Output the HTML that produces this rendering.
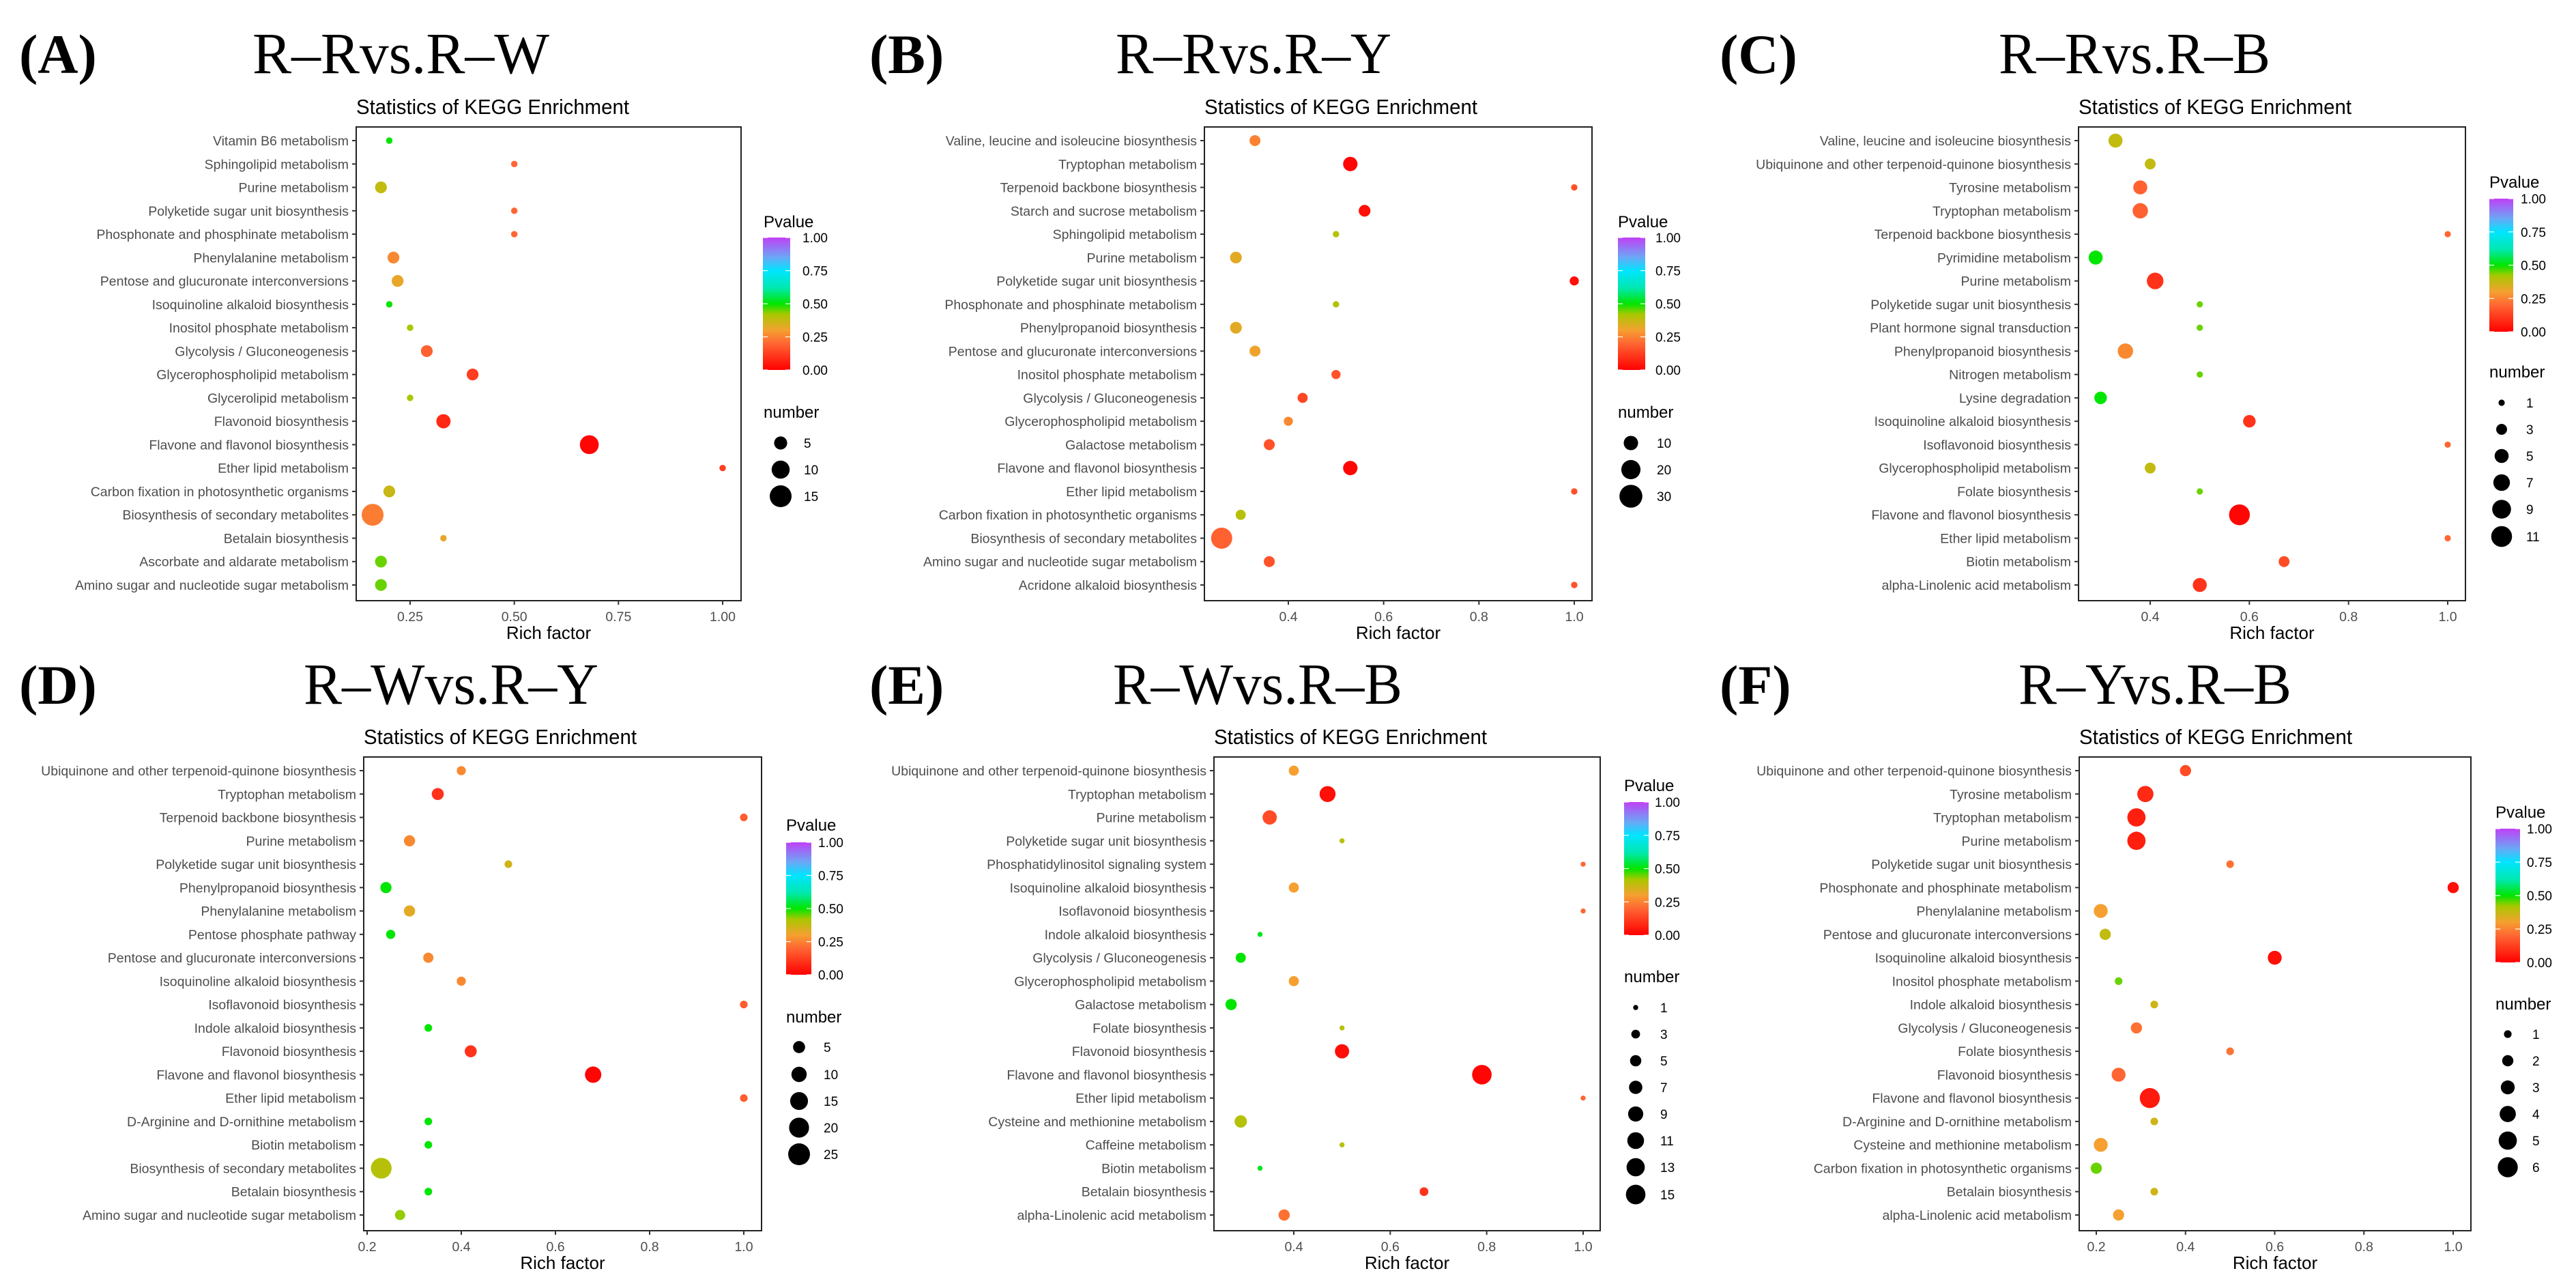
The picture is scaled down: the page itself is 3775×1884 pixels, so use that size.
<!DOCTYPE html>
<html><head><meta charset="utf-8"><style>
html,body{margin:0;padding:0;background:#fff;}
svg{display:block;}
</style></head><body>
<svg id="fig" xmlns="http://www.w3.org/2000/svg" width="3775" height="1884" viewBox="0 0 3775 1884">
<defs>
<linearGradient id="pgrad" x1="0" y1="1" x2="0" y2="0">
<stop offset="0" stop-color="#ff0000"/><stop offset="0.2" stop-color="#ff6633"/><stop offset="0.3" stop-color="#f5a030"/>
<stop offset="0.42" stop-color="#a8c800"/><stop offset="0.5" stop-color="#00e600"/><stop offset="0.62" stop-color="#00e8b0"/>
<stop offset="0.75" stop-color="#00e5ff"/><stop offset="0.85" stop-color="#6aa8f5"/><stop offset="1" stop-color="#c040f5"/>
</linearGradient>
</defs>
</svg>
<script>
// ---- Panel A data ----
const catsA=["Vitamin B6 metabolism","Sphingolipid metabolism","Purine metabolism","Polyketide sugar unit biosynthesis","Phosphonate and phosphinate metabolism","Phenylalanine metabolism","Pentose and glucuronate interconversions","Isoquinoline alkaloid biosynthesis","Inositol phosphate metabolism","Glycolysis / Gluconeogenesis","Glycerophospholipid metabolism","Glycerolipid metabolism","Flavonoid biosynthesis","Flavone and flavonol biosynthesis","Ether lipid metabolism","Carbon fixation in photosynthetic organisms","Biosynthesis of secondary metabolites","Betalain biosynthesis","Ascorbate and aldarate metabolism","Amino sugar and nucleotide sugar metabolism"];
const richA=[0.2,0.5,0.18,0.5,0.5,0.21,0.22,0.2,0.25,0.29,0.4,0.25,0.33,0.68,1.0,0.2,0.16,0.33,0.18,0.18];
const pA=[0.5,0.2,0.38,0.2,0.2,0.26,0.32,0.5,0.42,0.19,0.12,0.42,0.08,0.01,0.12,0.37,0.24,0.32,0.45,0.45];
const nA=[1,1,4,1,1,4,4,1,1,4,4,1,6,11,1,4,15,1,4,4];
const ticksA=[0.25,0.5,0.75,1.0];const tickLabA=["0.25","0.50","0.75","1.00"];const legNA=[5,10,15];
// ---- Panel B data ----
const catsB=["Valine, leucine and isoleucine biosynthesis","Tryptophan metabolism","Terpenoid backbone biosynthesis","Starch and sucrose metabolism","Sphingolipid metabolism","Purine metabolism","Polyketide sugar unit biosynthesis","Phosphonate and phosphinate metabolism","Phenylpropanoid biosynthesis","Pentose and glucuronate interconversions","Inositol phosphate metabolism","Glycolysis / Gluconeogenesis","Glycerophospholipid metabolism","Galactose metabolism","Flavone and flavonol biosynthesis","Ether lipid metabolism","Carbon fixation in photosynthetic organisms","Biosynthesis of secondary metabolites","Amino sugar and nucleotide sugar metabolism","Acridone alkaloid biosynthesis"];
const richB=[0.33,0.53,1.0,0.56,0.5,0.29,1.0,0.5,0.29,0.33,0.5,0.43,0.4,0.36,0.53,1.0,0.3,0.26,0.36,1.0];
const pB=[0.25,0.01,0.16,0.03,0.4,0.33,0.03,0.4,0.33,0.31,0.16,0.14,0.26,0.16,0.01,0.16,0.4,0.19,0.16,0.16];
const nB=[5,10,1,6,1,6,3,1,6,5,3,4,3,5,10,1,4,25,5,1];
const ticksB=[0.4,0.6,0.8,1.0];const tickLabB=["0.4","0.6","0.8","1.0"];const legNB=[10,20,30];
// ---- Panel C data ----
const catsC=["Valine, leucine and isoleucine biosynthesis","Ubiquinone and other terpenoid-quinone biosynthesis","Tyrosine metabolism","Tryptophan metabolism","Terpenoid backbone biosynthesis","Pyrimidine metabolism","Purine metabolism","Polyketide sugar unit biosynthesis","Plant hormone signal transduction","Phenylpropanoid biosynthesis","Nitrogen metabolism","Lysine degradation","Isoquinoline alkaloid biosynthesis","Isoflavonoid biosynthesis","Glycerophospholipid metabolism","Folate biosynthesis","Flavone and flavonol biosynthesis","Ether lipid metabolism","Biotin metabolism","alpha-Linolenic acid metabolism"];
const richC=[0.33,0.4,0.38,0.38,1.0,0.29,0.41,0.5,0.5,0.35,0.5,0.3,0.6,1.0,0.4,0.5,0.58,1.0,0.67,0.5];
const pC=[0.38,0.38,0.19,0.19,0.2,0.5,0.1,0.45,0.45,0.26,0.45,0.5,0.1,0.2,0.38,0.45,0.01,0.2,0.15,0.1];
const nC=[5,3,5,6,1,5,7,1,1,6,1,4,4,1,3,1,11,1,3,5];
const ticksC=[0.4,0.6,0.8,1.0];const tickLabC=["0.4","0.6","0.8","1.0"];const legNC=[1,3,5,7,9,11];
// ---- Panel D data ----
const catsD=["Ubiquinone and other terpenoid-quinone biosynthesis","Tryptophan metabolism","Terpenoid backbone biosynthesis","Purine metabolism","Polyketide sugar unit biosynthesis","Phenylpropanoid biosynthesis","Phenylalanine metabolism","Pentose phosphate pathway","Pentose and glucuronate interconversions","Isoquinoline alkaloid biosynthesis","Isoflavonoid biosynthesis","Indole alkaloid biosynthesis","Flavonoid biosynthesis","Flavone and flavonol biosynthesis","Ether lipid metabolism","D-Arginine and D-ornithine metabolism","Biotin metabolism","Biosynthesis of secondary metabolites","Betalain biosynthesis","Amino sugar and nucleotide sugar metabolism"];
const richD=[0.4,0.35,1.0,0.29,0.5,0.24,0.29,0.25,0.33,0.4,1.0,0.33,0.42,0.68,1.0,0.33,0.33,0.23,0.33,0.27];
const pD=[0.26,0.1,0.18,0.26,0.36,0.5,0.33,0.5,0.26,0.26,0.18,0.5,0.1,0.01,0.18,0.5,0.5,0.4,0.5,0.43];
const nD=[2,5,1,4,1,4,4,2,3,2,1,1,5,12,1,1,1,22,1,3];
const ticksD=[0.2,0.4,0.6,0.8,1.0];const tickLabD=["0.2","0.4","0.6","0.8","1.0"];const legND=[5,10,15,20,25];
// ---- Panel E data ----
const catsE=["Ubiquinone and other terpenoid-quinone biosynthesis","Tryptophan metabolism","Purine metabolism","Polyketide sugar unit biosynthesis","Phosphatidylinositol signaling system","Isoquinoline alkaloid biosynthesis","Isoflavonoid biosynthesis","Indole alkaloid biosynthesis","Glycolysis / Gluconeogenesis","Glycerophospholipid metabolism","Galactose metabolism","Folate biosynthesis","Flavonoid biosynthesis","Flavone and flavonol biosynthesis","Ether lipid metabolism","Cysteine and methionine metabolism","Caffeine metabolism","Biotin metabolism","Betalain biosynthesis","alpha-Linolenic acid metabolism"];
const richE=[0.4,0.47,0.35,0.5,1.0,0.4,1.0,0.33,0.29,0.4,0.27,0.5,0.5,0.79,1.0,0.29,0.5,0.33,0.67,0.38];
const pE=[0.3,0.03,0.15,0.4,0.2,0.3,0.2,0.52,0.5,0.3,0.5,0.4,0.03,0.01,0.2,0.4,0.4,0.52,0.1,0.22];
const nE=[4,10,8,1,1,4,1,1,4,4,5,1,8,15,1,6,1,1,3,5];
const ticksE=[0.4,0.6,0.8,1.0];const tickLabE=["0.4","0.6","0.8","1.0"];const legNE=[1,3,5,7,9,11,13,15];
// ---- Panel F data ----
const catsF=["Ubiquinone and other terpenoid-quinone biosynthesis","Tyrosine metabolism","Tryptophan metabolism","Purine metabolism","Polyketide sugar unit biosynthesis","Phosphonate and phosphinate metabolism","Phenylalanine metabolism","Pentose and glucuronate interconversions","Isoquinoline alkaloid biosynthesis","Inositol phosphate metabolism","Indole alkaloid biosynthesis","Glycolysis / Gluconeogenesis","Folate biosynthesis","Flavonoid biosynthesis","Flavone and flavonol biosynthesis","D-Arginine and D-ornithine metabolism","Cysteine and methionine metabolism","Carbon fixation in photosynthetic organisms","Betalain biosynthesis","alpha-Linolenic acid metabolism"];
const richF=[0.4,0.31,0.29,0.29,0.5,1.0,0.21,0.22,0.6,0.25,0.33,0.29,0.5,0.25,0.32,0.33,0.21,0.2,0.33,0.25];
const pF=[0.15,0.08,0.06,0.06,0.22,0.03,0.3,0.38,0.03,0.45,0.36,0.22,0.22,0.2,0.05,0.36,0.3,0.45,0.36,0.3];
const nF=[2,4,5,5,1,2,3,2,3,1,1,2,1,3,6,1,3,2,1,2];
const ticksF=[0.2,0.4,0.6,0.8,1.0];const tickLabF=["0.2","0.4","0.6","0.8","1.0"];const legNF=[1,2,3,4,5,6];

const NS="http://www.w3.org/2000/svg";
const svg=document.getElementById('fig');
function el(tag,attrs,parent,txt){const e=document.createElementNS(NS,tag);for(const k in attrs)e.setAttribute(k,attrs[k]);if(txt!==undefined)e.textContent=txt;(parent||svg).appendChild(e);return e;}
const stops=[[0,[255,0,0]],[0.2,[255,102,51]],[0.3,[245,160,48]],[0.42,[168,200,0]],[0.5,[0,230,0]],[0.62,[0,232,176]],[0.75,[0,229,255]],[0.85,[106,168,245]],[1,[192,64,245]]];
function pcol(p){for(let i=1;i<stops.length;i++){if(p<=stops[i][0]){const a=stops[i-1],b=stops[i];const t=(p-a[0])/(b[0]-a[0]);const c=a[1].map((v,j)=>Math.round(v+(b[1][j]-v)*t));return `rgb(${c[0]},${c[1]},${c[2]})`;}}return 'rgb(192,64,245)';}

const panels=[
 {id:'a',lab:'(A)',title:'R–Rvs.R–W',cats:catsA,rich:richA,p:pA,n:nA,ticks:ticksA,tl:tickLabA,leg:legNA,
  ox:0,oy:0,labX:28,titleX:370,titleW:435,box:[522,186,1086,880],row0:206,row1:857,x0v:0.25,x0:601,x1v:1.0,x1:1059,
  rA:0.8,rB:3.93,lg:{x:1119,pv:333,cb:[1118,348,1158,542],nt:612,ey:[649,688,727],cx:1144,lx:1170}},
 {id:'b',lab:'(B)',title:'R–Rvs.R–Y',cats:catsB,rich:richB,p:pB,n:nB,ticks:ticksB,tl:tickLabB,leg:legNB,
  ox:1250,oy:0,labX:24,titleX:385,titleW:404,box:[515,186,1083,880],row0:206,row1:857,x0v:0.4,x0:638,x1v:1.0,x1:1057,
  rA:2,rB:2.7,lg:{x:1121,pv:333,cb:[1121,348,1161,542],nt:612,ey:[649,688,727],cx:1140,lx:1170}},
 {id:'c',lab:'(C)',title:'R–Rvs.R–B',cats:catsC,rich:richC,p:pC,n:nC,ticks:ticksC,tl:tickLabC,leg:legNC,
  ox:2500,oy:0,labX:20,titleX:429,titleW:398,box:[546,186,1113,880],row0:206,row1:857,x0v:0.4,x0:651,x1v:1.0,x1:1087,
  rA:0,rB:4.6,lg:{x:1148,pv:275,cb:[1148,291,1183,486],nt:553,ey:[590,629,668,707,746,786],cx:1166,lx:1194}},
 {id:'d',lab:'(D)',title:'R–Wvs.R–Y',cats:catsD,rich:richD,p:pD,n:nD,ticks:ticksD,tl:tickLabD,leg:legND,
  ox:0,oy:930,labX:28,titleX:445,titleW:432,box:[533,179,1116,873],row0:199,row1:850,x0v:0.2,x0:538,x1v:1.0,x1:1090,
  rA:3,rB:2.6,lg:{x:1152,pv:287,cb:[1152,304,1189,498],nt:568,ey:[604,644,683,722,761],cx:1171,lx:1199}},
 {id:'e',lab:'(E)',title:'R–Wvs.R–B',cats:catsE,rich:richE,p:pE,n:nE,ticks:ticksE,tl:tickLabE,leg:legNE,
  ox:1250,oy:930,labX:24,titleX:381,titleW:424,box:[529,179,1095,873],row0:199,row1:850,x0v:0.4,x0:646,x1v:1.0,x1:1070,
  rA:0,rB:3.7,lg:{x:1130,pv:229,cb:[1130,245,1166,440],nt:509,ey:[546,585,624,663,702,741,780,820],cx:1147,lx:1175}},
 {id:'f',lab:'(F)',title:'R–Yvs.R–B',cats:catsF,rich:richF,p:pF,n:nF,ticks:ticksF,tl:tickLabF,leg:legNF,
  ox:2500,oy:930,labX:20,titleX:458,titleW:400,box:[547,179,1121,873],row0:199,row1:850,x0v:0.2,x0:572,x1v:1.0,x1:1095,
  rA:-0.68,rB:6.28,lg:{x:1157,pv:268,cb:[1157,284,1193,480],nt:549,ey:[585,624,663,702,741,780],cx:1175,lx:1203}}
];
const F='Liberation Sans, Arial, sans-serif';
panels.forEach(P=>{
 const g=el('g',{transform:`translate(${P.ox},${P.oy})`});
 
 
 const xs=v=>P.x0+(v-P.x0v)*(P.x1-P.x0)/(P.x1v-P.x0v);
 const ys=i=>P.row0+i*(P.row1-P.row0)/(P.cats.length-1);
 const rs=n=>Math.max(3.5,P.rA+P.rB*Math.sqrt(n));
 const base=P.oy?101:107;
 let t=el('text',{x:P.labX,y:base,'font-family':'Liberation Serif, serif','font-size':82,'font-weight':'bold'},g,P.lab);
 
 t=el('text',{x:P.titleX,y:base,'font-family':'Liberation Serif, serif','font-size':86,textLength:P.titleW,lengthAdjust:'spacingAndGlyphs'},g,P.title);
 
 const [bx0,by0,bx1,by1]=P.box;
 t=el('text',{x:bx0,y:by0-19,'font-family':F,'font-size':31,textLength:400,lengthAdjust:'spacingAndGlyphs'},g,'Statistics of KEGG Enrichment');
 
 const box=el('rect',{x:bx0,y:by0,width:bx1-bx0,height:by1-by0,fill:'none',stroke:'#222','stroke-width':2},g);
 
 P.cats.forEach((c,i)=>{
  const y=ys(i);
  el('line',{x1:bx0-6,x2:bx0,y1:y,y2:y,stroke:'#333','stroke-width':2},g);
  const lt=el('text',{x:bx0-11,y:y+7,'text-anchor':'end','font-family':F,'font-size':19.5,fill:'#4d4d4d'},g,c);
  
 });
 P.ticks.forEach((v,i)=>{
  const x=xs(v);
  el('line',{x1:x,x2:x,y1:by1,y2:by1+6,stroke:'#333','stroke-width':2},g);
  const tt=el('text',{x:x,y:by1+30,'text-anchor':'middle','font-family':F,'font-size':19.5,fill:'#4d4d4d'},g,P.tl[i]);
  
 });
 t=el('text',{x:(bx0+bx1)/2,y:by1+56,'text-anchor':'middle','font-family':F,'font-size':26},g,'Rich factor');
 
 P.cats.forEach((c,i)=>{
  const d=el('circle',{cx:xs(P.rich[i]),cy:ys(i),r:rs(P.n[i]),fill:pcol(P.p[i])},g);
  
  
 });
 const L=P.lg;
 t=el('text',{x:L.x,y:L.pv,'font-family':F,'font-size':24},g,'Pvalue');
 
 const [cx0,cy0,cx1,cy1]=L.cb;
 const cb=el('rect',{x:cx0,y:cy0,width:cx1-cx0,height:cy1-cy0,fill:'url(#pgrad)'},g);
 
 [0,0.25,0.5,0.75,1].forEach(v=>{
  const y=cy1-v*(cy1-cy0);
  el('line',{x1:cx0,x2:cx0+7,y1:y,y2:y,stroke:'#fff','stroke-width':1.2},g);
  el('line',{x1:cx1-7,x2:cx1,y1:y,y2:y,stroke:'#fff','stroke-width':1.2},g);
  const lt=el('text',{x:L.lx+(cx1-cx0<38?0:6),y:y+7,'font-family':F,'font-size':19},g,v.toFixed(2));
  
 });
 t=el('text',{x:L.x,y:L.nt,'font-family':F,'font-size':24},g,'number');
 
 P.leg.forEach((n,i)=>{
  const c=el('circle',{cx:L.cx,cy:L.ey[i],r:rs(n),fill:'#000'},g);
  
  const lt=el('text',{x:L.lx+8,y:L.ey[i]+7,'font-family':F,'font-size':19},g,String(n));
  
 });
});
</script>
</body></html>
